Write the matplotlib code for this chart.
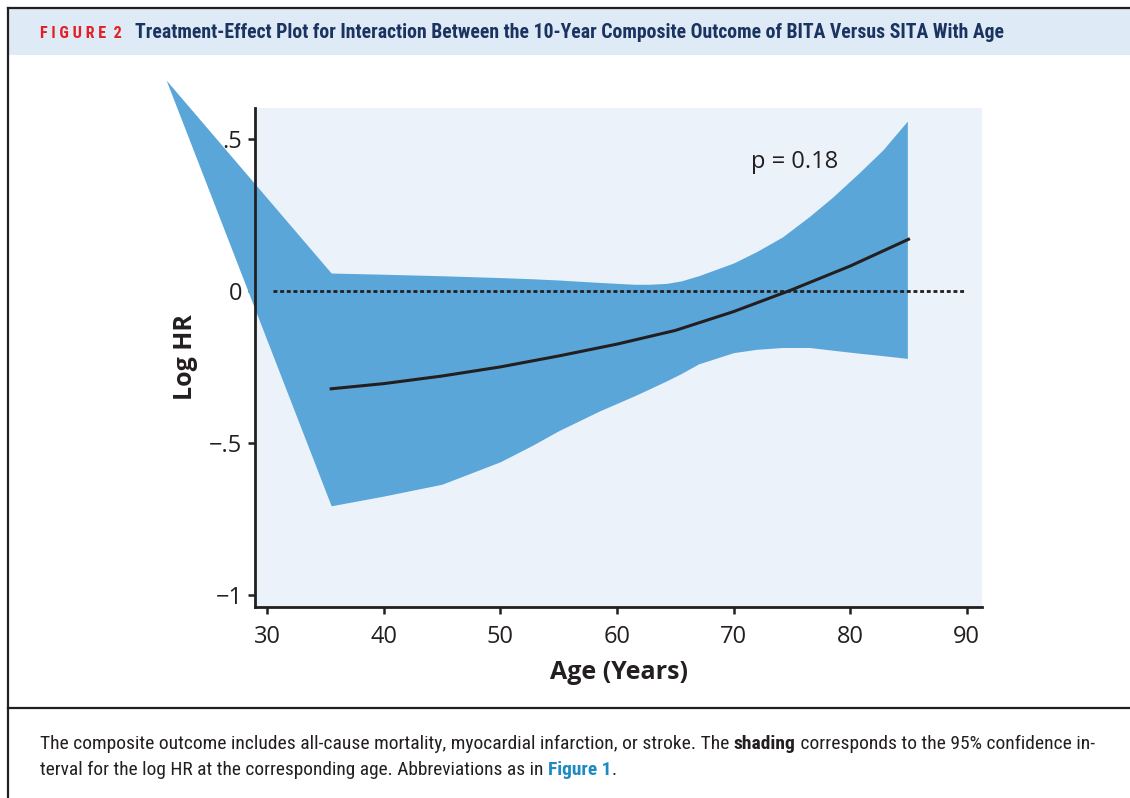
'''Treatment-effect plot: log HR of BITA vs SITA by age, with 95% CI band.'''
import matplotlib
matplotlib.use('Agg')
import matplotlib.pyplot as plt
from matplotlib import font_manager
from matplotlib.lines import Line2D
from matplotlib.patches import Rectangle

# fitted log HR across age
age_fit = [35.5, 40, 45, 50, 55, 60, 65, 70, 75, 80, 85]
log_hr = [-0.322, -0.305, -0.280, -0.250, -0.214, -0.175, -0.130, -0.068, 0.004, 0.082, 0.170]

# confidence band (starts at the apex of the wedge left of the axis)
age_band = [21.35, 35.5, 40, 45, 50, 52.8, 55, 58.5, 60, 61.5, 62.8, 64.3, 65.5,
            67, 70, 72, 74.2, 76.5, 78.5, 80.8, 82.8, 84.9]
band_upper = [0.694, 0.059, 0.055, 0.050, 0.044, 0.040, 0.036, 0.028, 0.025,
              0.022, 0.022, 0.025, 0.033, 0.050, 0.092, 0.130, 0.178, 0.245,
              0.309, 0.390, 0.464, 0.559]
band_lower = [0.694, -0.707, -0.675, -0.636, -0.562, -0.507, -0.460, -0.395,
              -0.370, -0.345, -0.322, -0.295, -0.272, -0.240, -0.203, -0.192,
              -0.186, -0.186, -0.195, -0.205, -0.213, -0.222]

x_ticks = [30, 40, 50, 60, 70, 80, 90]
y_ticks = [0.5, 0, -0.5, -1]
y_tick_labels = ['.5', '0', '\u2212.5', '\u22121']

title_tag = 'F I G U R E  2'
title_text = ('Treatment-Effect Plot for Interaction Between the 10-Year '
              'Composite Outcome of BITA Versus SITA With Age')

FILL = '#5BA6D9'
PANEL = '#EBF2FA'
HEADER = '#DEEAF6'
INK = '#231F20'

# pick a narrow family for header/caption if one is around
_names = {f.name for f in font_manager.fontManager.ttflist}
NARROW = 'Roboto'
for cand in ('Liberation Sans Narrow', 'Roboto Condensed', 'Open Sans Condensed',
             'Noto Sans Condensed', 'DejaVu Sans Condensed'):
    if cand in _names:
        NARROW = cand
        break

plt.rcParams['font.family'] = ['Open Sans', 'DejaVu Sans']

fig = plt.figure(figsize=(11.3, 7.98), dpi=100)
renderer = fig.canvas.get_renderer()
W, H = 1130, 798

# frame, header band and caption divider
fig.patches.append(Rectangle((8 / W, 1 - 55 / H), 1, 46 / H, transform=fig.transFigure,
                             facecolor=HEADER, edgecolor='none', zorder=0))
fig.lines.append(Line2D([8 / W, 1], [1 - 8 / H, 1 - 8 / H], transform=fig.transFigure,
                        color=INK, lw=1.6))
fig.lines.append(Line2D([8 / W, 8 / W], [0, 1 - 8 / H], transform=fig.transFigure,
                        color=INK, lw=1.6))
fig.lines.append(Line2D([8 / W, 1], [1 - 708 / H, 1 - 708 / H], transform=fig.transFigure,
                        color=INK, lw=1.6))

ax = fig.add_axes([255 / W, 1 - 607 / H, 727 / W, 499 / H])
ax.set_facecolor(PANEL)

ax.fill_between(age_band, band_lower, band_upper, color=FILL, lw=0,
                clip_on=False, zorder=2)
ax.plot(age_fit, log_hr, color=INK, lw=2.2, zorder=3)
ax.plot([30.5, 89.9], [0, 0], color=INK, lw=2.0, ls=(0, (1.4, 1.0)), zorder=3)

ax.set_xlim(28.97, 91.3)
ax.set_ylim(-1.04, 0.602)
ax.set_xticks(x_ticks)
ax.set_yticks(y_ticks)
ax.set_yticklabels(y_tick_labels)
for side in ('top', 'right'):
    ax.spines[side].set_visible(False)
for side in ('left', 'bottom'):
    ax.spines[side].set_linewidth(2.0)
    ax.spines[side].set_color(INK)
    ax.spines[side].set_zorder(4)
ax.tick_params(direction='out', length=5, width=1.8, color=INK,
               labelsize=17, labelcolor=INK, pad=4)
ax.tick_params(axis='x', pad=8)

ax.set_xlabel('Age (Years)', fontsize=18, fontweight='bold', color=INK, labelpad=8)
ax.set_ylabel('Log HR', fontsize=18, fontweight='bold', color=INK)
ax.yaxis.set_label_coords(-0.078, 0.5)

ax.text(75.2, 0.424, 'p = 0.18', fontsize=17, color=INK, ha='center', va='center')


def fitted_run(parts, x0, y, width, base=12.0):
    '''Draw text pieces one after another, sized so the whole run spans width px.'''
    probes = [fig.text(0, 0, txt, fontsize=base, family=[NARROW, 'DejaVu Sans'],
                       fontweight=wt) for txt, wt, _ in parts]
    total = sum(p.get_window_extent(renderer).width for p in probes)
    for p in probes:
        p.remove()
    size = base * width / total
    x = x0
    for txt, wt, colour in parts:
        t = fig.text(x / W, 1 - y / H, txt, fontsize=size, family=[NARROW, 'DejaVu Sans'],
                     fontweight=wt, color=colour, va='center')
        x += t.get_window_extent(renderer).width


# header title
fitted_run([(title_tag, 'bold', '#E31E24')], 40, 33, 82)
fitted_run([(title_text, 'bold', '#1B3360')], 135, 33, 870)

# caption with bold and linked runs
fitted_run([('The composite outcome includes all-cause mortality, myocardial '
             'infarction, or stroke. The ', 'normal', INK),
            ('shading', 'bold', INK),
            (' corresponds to the 95% confidence in-', 'normal', INK)], 40, 744, 1050)
fitted_run([('terval for the log HR at the corresponding age. Abbreviations as in ',
             'normal', INK),
            ('Figure 1', 'bold', '#1D8AC0'),
            ('.', 'normal', INK)], 40, 770, 577)

fig.savefig('out.png', dpi=100)
